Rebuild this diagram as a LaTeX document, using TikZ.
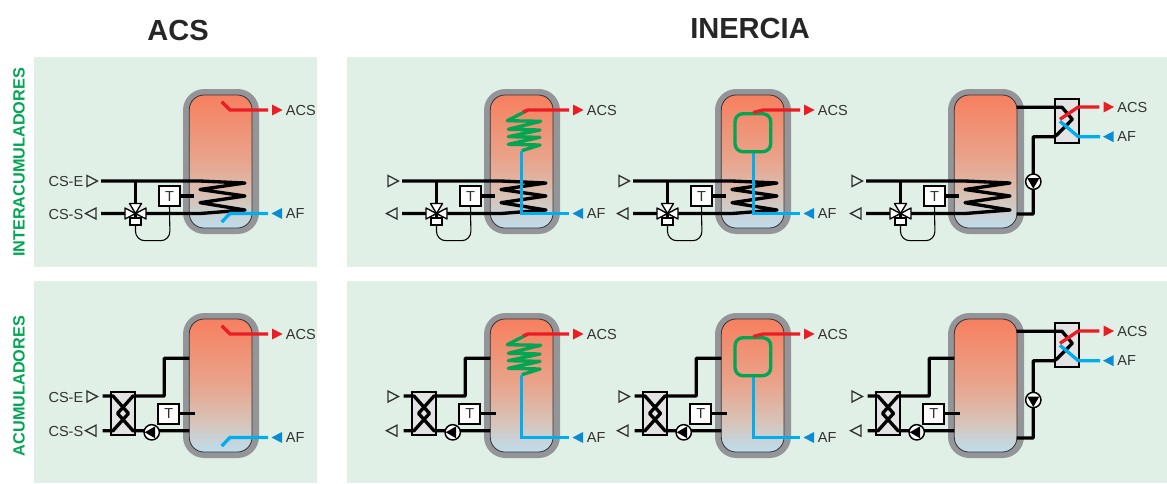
\documentclass[tikz,border=0pt]{standalone}
\usepackage{fontspec}
\setmainfont{Liberation Sans}
\definecolor{panelgreen}{HTML}{E1F0E6}
\definecolor{wallgray}{HTML}{939598}
\definecolor{hotred}{HTML}{ED1C24}
\definecolor{coldblue}{HTML}{00AEEF}
\definecolor{tipblue}{HTML}{0A8BD6}
\definecolor{coilgreen}{HTML}{00A651}
\definecolor{inkgray}{HTML}{333333}
\definecolor{boxgray}{HTML}{E3E3E3}
\definecolor{tanktop}{HTML}{F6805F}
\definecolor{tankmid}{HTML}{E8A58D}
\definecolor{tanklow}{HTML}{D8C2B6}
\definecolor{tankend}{HTML}{BEDDEC}
\pgfdeclareverticalshading{tankfill}{100bp}{color(0bp)=(tankend);
    color(25bp)=(tankend);
    color(37bp)=(tanklow);
    color(50bp)=(tankmid);
    color(75bp)=(tanktop);
    color(100bp)=(tanktop)}
\newcommand{\Tip}[4]{\path[#4] (#1,#2-5.5) -- ++({#3*10.5},5.5) -- ++({-#3*10.5},5.5) -- cycle;}
\newcommand{\Pump}[4]{%
    \node[pump] (#1) at (#2,#3) {};
    \fill[shift={(#1.center)},rotate=#4] (5.2pt,0) -- (120:5.2pt) -- (240:5.2pt) -- cycle;}
\newcommand{\Tank}{%
    \fill[wallgray] (183,89) [rounded corners=16pt] rectangle (259,234);
    \shade[shading=tankfill, draw=inkgray, line width=.6pt, rounded corners=11pt] (189.3,95) rectangle (252,228);}
\newcommand{\CoilSide}{%
    \coordinate (csin) at (101,181);
    \coordinate (csout) at (101,213.5);
    \coordinate (vlv) at (135.5,213.5);
    \Tip{87}{181}{1}{thintip}
    \Tip{96}{213.5}{-1}{thintip}
    \draw[pipe] (csin) -- (200,181) -- (245,183) -- (200,189.5) -- (245,196) -- (200,202.7) -- (245,210) -- (200,213.5) -- (csout);
    \draw[pipe] (135.5,181) -- (vlv);
    \node[actuator] (act) at (135.5,221.7) {};
    \node[tbox] (tsens) at (169.5,196) {T};
    \draw[cable, rounded corners=7pt] (act.south) -- (135.5,240.7) -- (170,240.7) -- (tsens.south);
    \draw[pipe] (tsens.east) -- (194,196);
    \draw[valve] (vlv) -- ++(-10.5,-5.5) -- ++(0,11) -- cycle;
    \draw[valve] (vlv) -- ++(10.5,-5.5) -- ++(0,11) -- cycle;
    \draw[valve] (vlv) -- ++(-6,-10) -- ++(12,0) -- cycle;
    \draw[line width=1.6pt] (vlv) -- (act.north);}
\newcommand{\PlateSide}{%
    \coordinate (csin) at (102.7,172);
    \coordinate (csout) at (102.7,206.7);
    \Tip{87}{172.5}{1}{thintip}
    \Tip{96}{206.7}{-1}{thintip}
    \node[plate] (hx) at (123,189.4) {};
    \draw[pipe] (csin) -- (113,172) -- (128.5,189.4) -- (113,206.7) -- (csout);
    \draw[pipe] (189.3,134.3) -- (164.3,134.3) -- (164.3,172) -- (133,172) -- (117.5,189.4) -- (133,206.7) -- (189.3,206.7);
    \Pump{circ}{151.7}{208.3}{180}
    \node[tbox] (tsens) at (168.7,189.7) {T};
    \draw[pipe] (tsens.east) -- (194.7,189.7);}
\newcommand{\DirectOut}{%
    \draw[hotpipe] (221.7,101.7) -- (230,110) -- (268,110);
    \draw[coldpipe] (221.7,222) -- (230,213.5) -- (268,213.5);}
\newcommand{\SpiralOut}{%
    \draw[coilpipe] (225.7,110.7) -- (206.3,120.7) -- (239.7,121.3) -- (207.3,129.3) -- (239,130) -- (207.3,136.7) -- (239,137.3) -- (207.3,144.3) -- (239,145) -- (220.7,150.7);
    \draw[hotpipe] (222,112) -- (227,110) -- (268,110);
    \draw[coldpipe, line join=miter] (220.7,150.7) -- (220.7,213.5) -- (268,213.5);}
\newcommand{\LoopOut}{%
    \draw[coldpipe, line join=miter] (221.3,150) -- (221.3,213.5) -- (268,213.5);
    \draw[coilpipe, rounded corners=6pt] (203,113.7) rectangle (238.7,151.7);
    \draw[hotpipe] (221.3,112.5) -- (231.3,110) -- (268,110);}
\newcommand{\OutTags}[3]{%
    \Tip{#1-10}{#2}{1}{fill=hotred}
    \Tip{#1}{#3}{-1}{fill=tipblue}
    \node[tag, anchor=west] (hot) at (#1+3.7,#2) {ACS};
    \node[tag, anchor=west] (cold) at (#1+3.7,#3) {AF};}
\begin{document}
\begin{tikzpicture}[x=.75pt, y=-.75pt,
    pipe/.style={line width=2.5pt, line join=round},
    hotpipe/.style={line width=2.5pt, hotred},
    coldpipe/.style={line width=2.5pt, coldblue},
    coilpipe/.style={line width=2.5pt, coilgreen, line join=round},
    cable/.style={line width=.8pt},
    thintip/.style={draw=inkgray, line width=1pt},
    valve/.style={draw=black, fill=white, line width=1pt, line join=round},
    actuator/.style={draw=black, fill=white, line width=1.2pt, minimum width=8.5pt, minimum height=5.2pt, inner sep=0pt},
    tbox/.style={draw=black, fill=white, line width=1.5pt, minimum width=15.4pt, minimum height=14.8pt, inner sep=0pt, text=inkgray, font=\fontsize{10.9}{12}\selectfont},
    plate/.style={draw=black, fill=boxgray, line width=1.5pt, minimum width=18.4pt, minimum height=32.6pt, inner sep=0pt},
    pump/.style={circle, draw=black, fill=white, line width=1.1pt, minimum size=11.5pt, inner sep=0pt},
    tag/.style={text=inkgray, inner sep=0pt, font=\fontsize{10.9}{12}\selectfont},
    heading/.style={text=black!85, inner sep=0pt, font=\fontsize{21.8}{24}\selectfont\bfseries},
    sidetag/.style={text=coilgreen, inner sep=0pt, rotate=90, font=\fontsize{12.2}{14}\selectfont\bfseries}]
    \useasboundingbox (0,0) rectangle (1167,483);
    \foreach \xa/\ya/\xb/\yb in {34/57/317/267,34/281/317/483,347/57/1167/267,347/281/1167/483}
        \fill[panelgreen] (\xa,\ya) rectangle (\xb,\yb);
    \node[heading] (titleacs) at (178,30) {ACS};
    \node[heading] (titleinercia) at (750,28) {INERCIA};
    \node[sidetag] (sideinter) at (19,162.5) {INTERACUMULADORES};
    \node[sidetag] (sideacum) at (19,386) {ACUMULADORES};
    % four columns, two rows
    \foreach \dx/\col in {0/a,301/b,532/c,765/d} {
        \begin{scope}[shift={(\dx,0)}, name prefix=\col1-]
            \Tank
            \CoilSide
        \end{scope}
        \begin{scope}[shift={(\dx,224)}, name prefix=\col2-]
            \Tank
            \PlateSide
        \end{scope}
    }
    \foreach \dy/\row/\py in {0/1/181.7,224/2/176} {
        \begin{scope}[shift={(0,\dy)}, name prefix=a\row-]
            \DirectOut
            \OutTags{282}{110}{213.5}
        \end{scope}
        \begin{scope}[shift={(301,\dy)}, name prefix=b\row-]
            \SpiralOut
            \OutTags{282}{110}{213.5}
        \end{scope}
        \begin{scope}[shift={(532,\dy)}, name prefix=c\row-]
            \LoopOut
            \OutTags{282}{110}{213.5}
        \end{scope}
        \begin{scope}[shift={(765,\dy)}, name prefix=d\row-]
            \node[plate, minimum width=18pt, minimum height=33pt] (hx) at (302,121.3) {};
            \draw[pipe] (251.7,107.3) -- (297,107.3) -- (307.3,119.3) -- (291.7,135) -- (289,136.7) -- (268.3,136.7) -- (268.3,214) -- (251.7,214);
            \Pump{circ}{268.3}{\py}{-90}
            \draw[coldpipe] (295,121.3) -- (313.3,136.7) -- (335,136.7);
            \draw[hotpipe] (295,119.3) -- (313.3,107) -- (334.3,107);
            \OutTags{348.5}{107}{136.7}
        \end{scope}
    }
    \node[tag, anchor=east] (csea) at (83.5,181) {CS-E};
    \node[tag, anchor=east] (cssa) at (83.5,214) {CS-S};
    \node[tag, anchor=east] (cseb) at (83.5,397) {CS-E};
    \node[tag, anchor=east] (cssb) at (83.5,431) {CS-S};
\end{tikzpicture}
\end{document}
